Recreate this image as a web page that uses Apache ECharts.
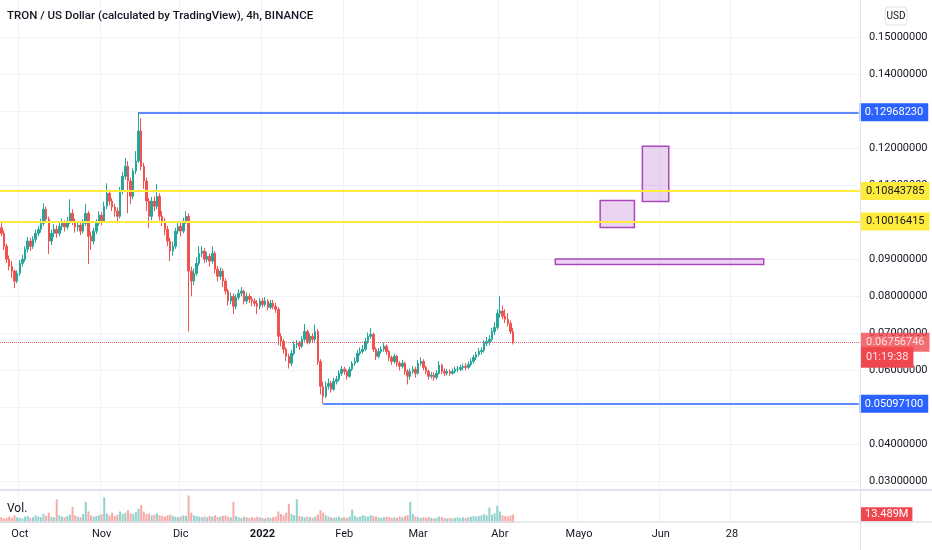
<!DOCTYPE html>
<html>
<head>
<meta charset="utf-8">
<script src="https://cdn.jsdelivr.net/npm/echarts@6.0.0/dist/echarts.min.js"></script>
<style>
html,body{margin:0;padding:0;background:#fff;}
#chart{width:932px;height:550px;}
</style>
</head>
<body>
<div id="chart"></div>
<script>
// ---------------- DATA ----------------
const titleText = 'TRON / US Dollar (calculated by TradingView), 4h, BINANCE';
const firstDate = '2021-09-24';
const axisDays = 326;               // Sep 24 2021 .. Aug 15 2022 (visible time range)
const firstOpen = 0.0985;

// daily candles from 2021-09-24 (open = previous close)
const closes = [0.0970,0.0935,0.0900,0.0881,0.0868,0.0841,0.0862,0.0889,0.0900,0.0927,
0.0949,0.0935,0.0954,0.0970,0.0981,0.0997,0.1035,0.1008,0.0949,0.0970,
0.0981,0.0970,0.0989,0.0997,0.0987,0.1003,0.1024,0.1003,0.0987,0.0992,
0.0976,0.0997,0.1024,0.0962,0.0949,0.0976,0.0997,0.1019,0.1003,0.1043,
0.1078,0.1057,0.1041,0.1030,0.1016,0.1084,0.1124,0.1151,0.1111,0.1070,
0.1138,0.1165,0.1246,0.1151,0.1111,0.1057,0.1016,0.1057,0.1043,0.1070,
0.1016,0.1003,0.0981,0.0949,0.0922,0.0935,0.0976,0.0989,0.0976,0.1003,
0.1016,0.0868,0.0841,0.0862,0.0889,0.0916,0.0922,0.0900,0.0908,0.0895,
0.0916,0.0873,0.0854,0.0868,0.0841,0.0814,0.0787,0.0800,0.0773,0.0797,
0.0808,0.0814,0.0787,0.0800,0.0792,0.0787,0.0781,0.0773,0.0787,0.0778,
0.0787,0.0770,0.0781,0.0773,0.0765,0.0692,0.0678,0.0657,0.0638,0.0619,
0.0646,0.0670,0.0673,0.0665,0.0684,0.0705,0.0678,0.0692,0.0684,0.0705,
0.0624,0.0557,0.0530,0.0557,0.0565,0.0549,0.0570,0.0576,0.0592,0.0603,
0.0597,0.0584,0.0603,0.0619,0.0624,0.0646,0.0651,0.0657,0.0678,0.0692,
0.0697,0.0657,0.0638,0.0651,0.0657,0.0665,0.0651,0.0635,0.0624,0.0638,
0.0619,0.0611,0.0619,0.0597,0.0584,0.0597,0.0603,0.0592,0.0619,0.0624,
0.0608,0.0597,0.0584,0.0587,0.0581,0.0592,0.0614,0.0597,0.0592,0.0597,
0.0592,0.0597,0.0603,0.0603,0.0608,0.0611,0.0608,0.0616,0.0624,0.0635,
0.0643,0.0651,0.0654,0.0673,0.0678,0.0684,0.0705,0.0716,0.0754,0.0760,
0.0746,0.0738,0.0727,0.0705,0.06756746];

const highs = [0.0998,0.0978,0.0942,0.0910,0.0895,0.0872,0.0870,0.0898,0.0912,0.0935,
0.0960,0.0958,0.0962,0.0980,0.0990,0.1010,0.1051,0.1042,0.1015,0.0980,
0.0995,0.0992,0.1000,0.1010,0.1005,0.1015,0.1062,0.1035,0.1010,0.1002,
0.1000,0.1008,0.1049,0.1030,0.0975,0.0985,0.1008,0.1030,0.1028,0.1055,
0.1105,0.1088,0.1065,0.1050,0.1040,0.1095,0.1135,0.1173,0.1165,0.1120,
0.1145,0.1192,0.1296823,0.1281,0.1160,0.1120,0.1065,0.1068,0.1070,0.1103,
0.1078,0.1030,0.1012,0.0990,0.0958,0.0948,0.0985,0.1000,0.0998,0.1012,
0.1030,0.1024,0.0880,0.0875,0.0905,0.0935,0.0935,0.0930,0.0920,0.0915,
0.0935,0.0922,0.0882,0.0878,0.0875,0.0848,0.0820,0.0810,0.0808,0.0805,
0.0818,0.0825,0.0818,0.0810,0.0808,0.0800,0.0795,0.0790,0.0795,0.0795,
0.0798,0.0792,0.0790,0.0790,0.0782,0.0770,0.0700,0.0685,0.0662,0.0645,
0.0655,0.0678,0.0682,0.0680,0.0692,0.0725,0.0710,0.0700,0.0700,0.0724,
0.0712,0.0630,0.0570,0.0570,0.0578,0.0572,0.0580,0.0585,0.0600,0.0612,
0.0610,0.0602,0.0610,0.0625,0.0635,0.0655,0.0662,0.0668,0.0688,0.0702,
0.0714,0.0702,0.0662,0.0660,0.0665,0.0675,0.0670,0.0656,0.0640,0.0645,
0.0642,0.0625,0.0628,0.0624,0.0603,0.0605,0.0612,0.0610,0.0628,0.0635,
0.0630,0.0612,0.0602,0.0595,0.0595,0.0600,0.0625,0.0618,0.0605,0.0604,
0.0603,0.0605,0.0610,0.0612,0.0615,0.0618,0.0620,0.0624,0.0632,0.0642,
0.0650,0.0660,0.0662,0.0682,0.0690,0.0695,0.0715,0.0730,0.0765,0.0800,
0.0775,0.0765,0.0755,0.0735,0.0715];

const lows = [0.0962,0.0925,0.0890,0.0870,0.0850,0.0822,0.0835,0.0855,0.0880,0.0893,
0.0918,0.0922,0.0928,0.0945,0.0962,0.0972,0.0990,0.0998,0.0914,0.0938,
0.0960,0.0958,0.0962,0.0978,0.0975,0.0980,0.0995,0.0992,0.0972,0.0975,
0.0965,0.0970,0.0990,0.0887,0.0925,0.0940,0.0968,0.0990,0.0992,0.0998,
0.1035,0.1045,0.1030,0.1015,0.0997,0.1010,0.1075,0.1115,0.1024,0.1049,
0.1062,0.1130,0.1160,0.1140,0.1090,0.1030,0.0984,0.1005,0.1030,0.1035,
0.1005,0.0990,0.0965,0.0935,0.0895,0.0910,0.0928,0.0968,0.0962,0.0970,
0.0995,0.0705,0.0800,0.0830,0.0855,0.0882,0.0905,0.0890,0.0892,0.0880,
0.0888,0.0862,0.0840,0.0845,0.0825,0.0805,0.0775,0.0778,0.0752,0.0765,
0.0790,0.0800,0.0778,0.0780,0.0782,0.0773,0.0772,0.0752,0.0765,0.0770,
0.0772,0.0762,0.0765,0.0765,0.0755,0.0668,0.0665,0.0645,0.0625,0.0605,
0.0612,0.0640,0.0660,0.0655,0.0660,0.0678,0.0670,0.0672,0.0675,0.0678,
0.0615,0.0535,0.05097,0.0525,0.0548,0.0540,0.0545,0.0562,0.0570,0.0585,
0.0588,0.0575,0.0580,0.0598,0.0612,0.0620,0.0640,0.0645,0.0652,0.0672,
0.0685,0.0650,0.0628,0.0632,0.0645,0.0650,0.0642,0.0625,0.0615,0.0618,
0.0610,0.0600,0.0605,0.0588,0.0562,0.0575,0.0590,0.0580,0.0588,0.0612,
0.0600,0.0590,0.0575,0.0578,0.0572,0.0575,0.0588,0.0590,0.0585,0.0586,
0.0585,0.0588,0.0592,0.0595,0.0598,0.0600,0.0600,0.0603,0.0610,0.0618,
0.0628,0.0638,0.0642,0.0648,0.0665,0.0668,0.0678,0.0695,0.0710,0.0742,
0.0738,0.0728,0.0718,0.0698,0.0670];

// volume (M)
const volumes = [9,7,8,10,8,12,9,8,7,10,
11,8,9,12,10,9,14,11,16,10,
9,37,12,10,9,11,13,25,12,10,
9,14,33,18,12,10,11,12,14,40,
15,12,16,11,13,18,14,16,20,15,
14,17,22,28,18,14,15,12,13,15,
12,11,10,12,13,11,10,9,10,12,
11,43,16,12,11,10,9,10,9,11,
10,12,9,10,11,12,10,9,33,11,
9,8,10,9,8,9,8,10,9,8,
7,9,8,9,10,18,14,12,16,30,
14,12,37,11,10,9,10,9,8,10,
13,20,16,12,10,9,8,9,10,8,
9,8,10,21,11,9,10,12,11,10,
12,11,10,9,8,9,10,9,8,9,
8,10,9,11,12,33,14,10,9,8,
9,8,9,8,7,8,10,9,8,7,
8,7,8,9,8,9,8,9,10,11,
10,11,12,14,12,24,13,15,27,18,
12,11,10,12,13.489];

// price scale ticks
const priceMin = 0.02, priceMax = 0.16, priceStep = 0.01;
// time axis labels
const tickDates = ['2021-10-01','2021-11-01','2021-12-01','2022-01-01','2022-02-01','2022-03-01','2022-04-01','2022-05-01','2022-06-01','2022-06-28'];
const tickTexts = ['Oct','Nov','Dic','2022','Feb','Mar','Abr','Mayo','Jun','28'];

// drawn levels
const highLevel = {date:'2021-11-15', value:0.12968230};
const lowLevel = {date:'2022-01-24', value:0.05097100};
const yellowLevels = [0.10843785, 0.10016415];
const lastPrice = 0.06756746;
const countdown = '01:19:38';

// target boxes
const zones = [
  {from:'2022-05-09', to:'2022-05-22', low:0.09857, high:0.10586},
  {from:'2022-05-25', to:'2022-06-04', low:0.10559, high:0.12054},
  {from:'2022-04-22', to:'2022-07-10', low:0.08857, high:0.09008}
];

// ---------------- BUILD ----------------
const categories = [];
const t0 = Date.parse(firstDate + 'T00:00:00Z');
for (let i = 0; i < axisDays; i++) categories.push(new Date(t0 + i * 86400000).toISOString().slice(0, 10));
const lastCat = categories[categories.length - 1];

const opens = closes.map((c, i) => i === 0 ? firstOpen : closes[i - 1]);
const candleData = closes.map((c, i) => [opens[i], c, lows[i], highs[i]]);
const UP = '#26a69a', DOWN = '#ef5350';
const volData = volumes.map((v, i) => ({value: v, itemStyle: {color: closes[i] >= opens[i] ? 'rgba(38,166,154,0.5)' : 'rgba(239,83,80,0.5)'}}));

const FONT = 'Roboto, "Liberation Sans", sans-serif';
const TXT = '#131722';
const GRIDC = '#f0f3fa';
const SEP = '#e0e3eb';
const CLEAR = 'rgba(0,0,0,0)';
const TAGRED = '#f0474f';

function tag(bg, fg, pad) {
  return {show: true, position: 'end', distance: 1, backgroundColor: bg, color: fg,
    padding: pad || [3, 5, 3, 5], fontSize: 11, fontFamily: FONT, lineHeight: 12};
}

const nTicks = Math.round((priceMax - priceMin) / priceStep) + 1;
const gridColors = [];
for (let i = 0; i < nTicks; i++) gridColors.push(i === 0 || i === nTicks - 1 ? CLEAR : GRIDC);

const isTick = (idx, val) => tickDates.indexOf(val) >= 0;

const chart = echarts.init(document.getElementById('chart'), null, {renderer: 'canvas'});
chart.setOption({
  animation: false,
  backgroundColor: '#ffffff',
  textStyle: {fontFamily: FONT},
  grid: [
    {left: 0, right: 72, top: -1, height: 519.5},
    {left: 0, right: 72, top: 491, height: 32}
  ],
  xAxis: [
    {type: 'category', gridIndex: 0, data: categories, boundaryGap: true,
      axisLine: {show: false}, axisTick: {show: false}, axisLabel: {show: false},
      splitLine: {show: true, interval: isTick, lineStyle: {color: GRIDC, width: 1}}},
    {type: 'category', gridIndex: 1, data: categories, boundaryGap: true,
      axisLine: {show: false}, axisTick: {show: false},
      splitLine: {show: true, interval: isTick, lineStyle: {color: GRIDC, width: 1}},
      axisLabel: {show: true, interval: isTick, margin: 6, color: TXT, fontSize: 11, fontFamily: FONT,
        formatter: (val) => {
          const k = tickDates.indexOf(val);
          const s = k >= 0 ? tickTexts[k] : '';
          return /^\d{4}$/.test(s) ? '{y|' + s + '}' : s;
        },
        rich: {y: {fontWeight: 'bold', fontSize: 11, color: TXT, fontFamily: FONT}}}}
  ],
  yAxis: [
    {type: 'value', gridIndex: 0, position: 'right', min: priceMin, max: priceMax, interval: priceStep,
      axisLine: {show: false}, axisTick: {show: false},
      splitLine: {show: true, lineStyle: {color: gridColors, width: 1}},
      axisLabel: {margin: 9, color: TXT, fontSize: 11, fontFamily: FONT,
        formatter: (v) => (v < priceMin + priceStep / 2 || v > priceMax - priceStep / 2) ? '' : v.toFixed(8)}},
    {type: 'value', gridIndex: 1, position: 'right', min: 0, max: 50, show: false,
      splitLine: {show: false}}
  ],
  series: [
    {
      type: 'candlestick', xAxisIndex: 0, yAxisIndex: 0, data: candleData, barWidth: 2,
      itemStyle: {color: UP, color0: DOWN, borderColor: UP, borderColor0: DOWN, borderWidth: 1},
      markArea: {
        silent: true,
        data: zones.map(z => [
          {coord: [z.from, z.high], itemStyle: {color: 'rgba(156,39,176,0.2)', borderColor: '#ab47bc', borderWidth: 1.5}},
          {coord: [z.to, z.low]}
        ])
      },
      markLine: {
        silent: true, symbol: ['none', 'none'], z: 10, precision: 10,
        data: [
          [{coord: [highLevel.date, highLevel.value], lineStyle: {color: '#2962ff', width: 1.5, type: 'solid'},
            label: Object.assign(tag('#2962ff', '#ffffff'), {formatter: () => highLevel.value.toFixed(8)})},
           {coord: [lastCat, highLevel.value]}],
          [{coord: [lowLevel.date, lowLevel.value], lineStyle: {color: '#2962ff', width: 1.5, type: 'solid'},
            label: Object.assign(tag('#2962ff', '#ffffff'), {formatter: () => lowLevel.value.toFixed(8)})},
           {coord: [lastCat, lowLevel.value]}],
          ...yellowLevels.map(v => ({yAxis: v, lineStyle: {color: '#ffeb3b', width: 2, type: 'solid'},
            label: Object.assign(tag('#ffeb3b', TXT), {formatter: () => v.toFixed(8)})})),
          {yAxis: lastPrice - 0.00405, lineStyle: {color: CLEAR, width: 0},
            label: Object.assign(tag(TAGRED, '#ffe3e3', [6, 5, 3, 5]), {formatter: () => countdown})},
          {yAxis: lastPrice, lineStyle: {color: '#f23645', width: 1, type: 'dotted', opacity: 0.8},
            label: Object.assign(tag(TAGRED, '#ffffff', [3, 5, 4, 5]), {formatter: () => lastPrice.toFixed(8)})}
        ]
      }
    },
    {
      type: 'bar', xAxisIndex: 1, yAxisIndex: 1, data: volData, barWidth: 2,
      markLine: {
        silent: true, symbol: ['none', 'none'], precision: 10,
        data: [{yAxis: volumes[volumes.length - 1], lineStyle: {color: CLEAR, width: 0},
          label: {show: true, position: 'end', distance: 1, backgroundColor: TAGRED, color: '#ffffff',
            padding: [2, 4, 1, 4], fontSize: 11, fontFamily: FONT, lineHeight: 11,
            formatter: () => volumes[volumes.length - 1].toFixed(3) + 'M'}}]
      }
    }
  ],
  graphic: [
    {type: 'line', z: 50, shape: {x1: 860.5, y1: 0, x2: 860.5, y2: 550}, style: {stroke: SEP, lineWidth: 1}},
    {type: 'line', z: 50, shape: {x1: 0, y1: 490, x2: 932, y2: 490}, style: {stroke: SEP, lineWidth: 2}},
    {type: 'line', z: 50, shape: {x1: 0, y1: 522, x2: 932, y2: 522}, style: {stroke: SEP, lineWidth: 1.5}},
    {type: 'text', z: 50, left: 7, top: 10, style: {text: titleText, fill: TXT, font: '500 11.5px ' + FONT}},
    {type: 'text', z: 50, left: 7, top: 503, style: {text: 'Vol.', fill: TXT, font: '12px ' + FONT}},
    {type: 'rect', z: 50, shape: {x: 885, y: 7, width: 22, height: 18, r: 4}, style: {fill: '#ffffff', stroke: SEP, lineWidth: 1}},
    {type: 'text', z: 51, x: 896, y: 16, style: {text: 'USD', fill: TXT, font: '10px ' + FONT, align: 'center', verticalAlign: 'middle'}}
  ]
});
</script>
</body>
</html>
